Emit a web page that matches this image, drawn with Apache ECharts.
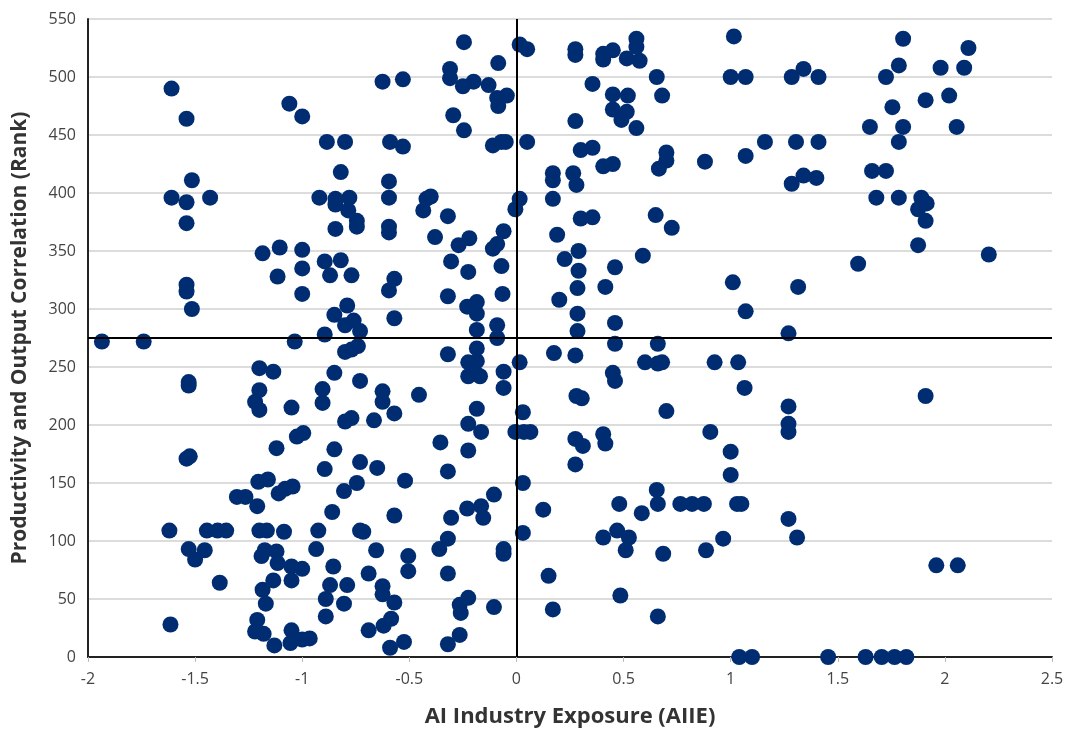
<!DOCTYPE html>
<html>
<head>
<meta charset="utf-8">
<script src="https://cdn.jsdelivr.net/npm/echarts@6/dist/echarts.min.js"></script>
<style>html,body{margin:0;padding:0;background:#fff;}#chart{width:1076px;height:729px;}</style>
</head>
<body>
<div id="chart"></div>
<script>
// AI Industry Exposure (x) and Productivity/Output Correlation rank (y)
const aiie = [
-1.61,-1.54,-1.06,-1.00,-0.885,-0.80,-1.515,-1.61,-1.54,-1.43,-1.54,-0.92,-0.845,-0.78,-0.845,-0.785,-0.745,-0.745,-0.845,-0.82,
-0.595,-0.595,-0.595,-0.595,-0.40,-0.42,-0.435,-0.32,-0.38,-0.22,-0.06,-0.245,0.015,0.05,-0.085,-0.31,-0.31,-0.25,-0.20,-0.13,
-0.09,-0.045,-0.085,-0.625,-0.53,-0.295,-0.245,-0.59,-0.53,-0.11,-0.07,-0.05,0.05,0.17,0.17,0.17,0.015,-0.005,0.19,
-1.185,-1.105,-1.00,-0.895,-0.87,-1.00,-1.115,-1.00,-0.85,-1.54,-1.54,-1.515,-1.935,-1.74,-1.035,-0.895,-1.20,-1.135,-1.53,-1.53,
-1.20,-1.22,-1.20,-1.05,-0.905,-0.905,-0.85,-1.025,-0.995,-1.12,
-0.27,-0.11,-0.09,-0.305,-0.225,-0.07,0.225,-0.82,-0.77,-0.57,-0.595,-0.32,-0.065,0.20,-0.23,-0.185,-0.185,-0.185,-0.09,-0.09,
-0.79,-0.80,-0.76,-0.73,-0.57,-0.80,-0.77,-0.74,-0.32,-0.185,-0.225,-0.225,-0.185,-0.17,-0.195,-0.06,-0.06,0.015,0.175,-0.73,
-0.625,-0.625,-0.455,-0.57,-0.665,-0.80,-0.77,-0.185,-0.225,-0.165,0.03,-0.005,0.035,0.065,-0.85,-0.355,-0.225,
0.725,0.29,0.59,0.46,0.29,0.285,0.415,1.01,1.315,1.07,0.285,0.285,0.46,1.27,0.46,0.66,0.275,0.60,0.66,0.68,
0.925,1.035,0.45,0.46,1.065,0.28,0.305,0.70,1.27,1.27,1.27,0.905,0.275,0.31,0.405,0.415,1.00,
0.275,0.275,0.405,0.405,0.45,0.56,0.56,0.515,0.575,1.015,0.655,1.00,1.07,1.285,1.34,0.355,0.68,0.45,0.52,0.45,
0.515,0.49,0.56,0.275,0.30,0.355,0.405,0.45,0.70,0.70,0.665,0.88,1.07,1.16,1.305,0.265,0.28,1.285,1.34,0.30,0.355,0.65,
1.41,1.805,2.11,1.785,1.725,1.98,2.09,1.755,1.91,2.02,1.65,1.805,2.055,1.785,1.41,1.40,1.66,1.725,1.68,1.785,
1.89,1.915,1.875,1.91,1.875,1.595,2.205,1.91,
-1.54,-1.525,-0.895,-1.205,-1.16,-1.11,-1.08,-1.045,-1.305,-1.265,-1.21,-0.86,-1.62,-1.445,-1.395,-1.355,-1.20,-1.165,-1.085,-0.925,
-1.53,-1.455,-1.50,-1.175,-1.12,-1.19,-1.115,-0.935,-1.05,-1.00,-0.855,-1.385,-1.135,-1.185,-1.05,-0.87,-1.17,-0.89,-0.89,-1.615,
-1.21,-1.22,-1.18,-1.13,-1.05,-1.055,-1.00,-0.965,
-0.73,-0.65,-0.32,-0.745,-0.805,-0.52,0.03,-0.105,-0.23,-0.165,-0.155,-0.305,0.125,-0.57,-0.73,-0.715,0.03,-0.32,-0.36,-0.06,
-0.06,-0.655,-0.505,-0.505,-0.69,-0.32,0.15,-0.79,-0.805,-0.625,-0.625,-0.57,-0.69,-0.62,-0.585,-0.59,-0.525,-0.265,-0.225,-0.26,
-0.105,0.17,-0.265,-0.32,
0.275,0.655,0.66,0.48,0.585,0.765,0.82,0.875,1.03,1.05,1.27,0.405,0.47,0.525,0.51,0.685,0.885,0.965,1.31,0.485,
0.66,1.04,1.10,1.00,1.96,2.06,1.455,1.63,1.705,1.765,1.82
];
const rank = [
490,464,477,466,444,444,411,396,392,396,374,396,395,396,390,385,376,371,369,418,
410,396,371,366,397,395,385,380,362,361,367,530,528,524,512,507,499,492,496,493,
482,484,475,496,498,467,454,444,440,441,444,444,444,417,411,395,395,386,364,
348,353,351,341,329,335,328,313,295,321,315,300,272,272,272,278,249,246,237,234,
230,220,213,215,231,219,245,190,193,180,
355,352,356,341,332,337,343,342,329,326,316,311,313,308,302,306,296,282,286,275,
303,286,290,281,292,263,265,268,261,266,254,242,255,242,246,246,232,254,262,238,
229,220,226,210,204,203,206,214,201,194,211,194,194,194,179,185,178,
370,350,346,336,333,318,319,323,319,298,296,281,288,279,270,270,260,254,253,254,
254,254,245,238,232,225,223,212,216,201,194,194,188,182,192,184,177,
524,519,520,515,523,533,526,516,514,535,500,500,500,500,507,494,484,485,484,472,
470,463,456,462,437,439,423,425,435,428,421,427,432,444,444,417,407,408,415,378,379,381,
500,533,525,510,500,508,508,474,480,484,457,457,457,444,444,413,419,419,396,396,
396,391,386,376,355,339,347,225,
171,173,162,151,153,141,145,147,138,138,130,125,109,109,109,109,109,109,108,109,
93,92,84,92,91,87,81,93,78,76,78,64,66,58,66,62,46,50,35,28,
32,22,20,10,23,12,15,16,
168,163,160,150,143,152,150,140,128,130,120,120,127,122,109,108,107,102,93,93,
89,92,87,74,72,72,70,62,46,61,54,47,23,27,33,8,13,45,51,38,
43,41,19,11,
166,144,132,132,124,132,132,132,132,132,119,103,109,103,92,89,92,102,103,53,
35,0,0,157,79,79,0,0,0,0,0
];
const xTicks = ['-2','-1.5','-1','-0.5','0','0.5','1','1.5','2','2.5'];
const crossX = 0;
const crossY = 275;

const points = aiie.map((x, i) => [x, rank[i]]);
const chart = echarts.init(document.getElementById('chart'), null, {renderer: 'canvas'});
const font = '"Open Sans", "Noto Sans", sans-serif';
chart.setOption({
  animation: false,
  grid: {left: 88, right: 24, top: 19, bottom: 72, containLabel: false, outerBoundsMode: 'none'},
  xAxis: {
    type: 'value', min: -2, max: 2.5, interval: 0.5,
    name: 'AI Industry Exposure (AIIE)', nameLocation: 'middle', nameGap: 49,
    nameTextStyle: {fontFamily: font, fontSize: 22, fontWeight: 'bold', color: '#333'},
    axisLine: {show: true, onZero: false, lineStyle: {color: '#222', width: 2}},
    axisTick: {show: true, length: 5, lineStyle: {color: '#bbb'}},
    axisLabel: {fontFamily: font, fontSize: 16, color: '#444', margin: 14,
      formatter: (v) => { const i = Math.round((v + 2) / 0.5); return xTicks[i] !== undefined ? xTicks[i] : ''; }},
    splitLine: {show: false}
  },
  yAxis: {
    type: 'value', min: 0, max: 550, interval: 50,
    name: 'Productivity and Output Correlation (Rank)', nameLocation: 'middle', nameGap: 57,
    nameTextStyle: {fontFamily: font, fontSize: 21, fontWeight: 'bold', color: '#333'},
    axisLine: {show: true, onZero: false, lineStyle: {color: '#222', width: 2}},
    axisTick: {show: false},
    axisLabel: {fontFamily: font, fontSize: 16, color: '#444', margin: 12},
    splitLine: {show: true, lineStyle: {color: '#dcdcdc', width: 2}}
  },
  series: [{
    type: 'scatter',
    data: points,
    symbol: 'circle',
    symbolSize: 16,
    itemStyle: {color: '#002d72', opacity: 1},
    markLine: {
      silent: true, symbol: 'none', animation: false,
      label: {show: false},
      lineStyle: {color: '#000', width: 2, type: 'solid'},
      data: [{xAxis: crossX}, {yAxis: crossY}]
    },
    z: 3
  }]
});
</script>
</body>
</html>
